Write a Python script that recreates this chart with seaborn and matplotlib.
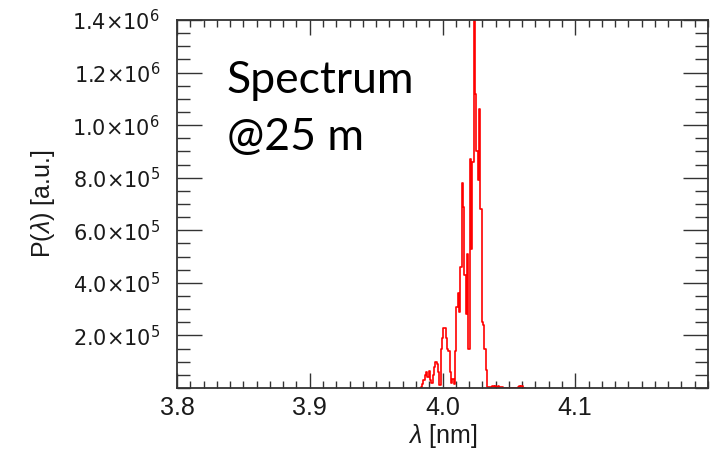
import numpy as np
import pandas as pd
import matplotlib
matplotlib.use("Agg")
import matplotlib.pyplot as plt
from matplotlib.ticker import FixedLocator, MultipleLocator
import seaborn as sns

# ---- data ----
wavelength_nm = [
    3.983, 3.984, 3.985, 3.986, 3.987, 3.988, 3.989, 3.990, 3.991, 3.992,
    3.993, 3.994, 3.995, 3.996, 3.997, 3.998, 3.999, 4.000, 4.001, 4.002,
    4.003, 4.004, 4.005, 4.006, 4.007, 4.008, 4.009, 4.010, 4.011, 4.012,
    4.013, 4.014, 4.015, 4.016, 4.017, 4.018, 4.019, 4.020, 4.021, 4.022,
    4.023, 4.024, 4.025, 4.026, 4.027, 4.028, 4.029, 4.030, 4.031, 4.032,
    4.033, 4.034, 4.035, 4.036, 4.037, 4.038, 4.039, 4.040, 4.041, 4.042,
    4.043, 4.044, 4.045, 4.046, 4.047, 4.048, 4.049, 4.050, 4.051, 4.052,
    4.053, 4.054, 4.055, 4.056, 4.057, 4.058, 4.059, 4.060, 4.061, 4.062,
]
power_au = [
    0, 5e3, 1.5e4, 3e4, 5e4, 6e4, 4e4, 6.5e4, 3e4, 2e4,
    5e4, 8e4, 1.0e5, 9e4, 6e4, 1e4, 1.5e5, 1.9e5, 2.3e5, 2.3e5,
    1.9e5, 1.5e5, 1.4e5, 6e4, 2e4, 3.5e4, 1.5e4, 1.4e5, 3.1e5, 3.6e5,
    2.9e5, 4.6e5, 7.8e5, 6.9e5, 4.3e5, 2.8e5, 5.1e5, 1.5e5, 8.7e5, 5.3e5,
    8.6e5, 1.45e6, 1.12e6, 9.0e5, 7.9e5, 1.06e6, 6.8e5, 2.5e5, 2.4e5, 1.5e5,
    7e4, 4e3, 3e3, 5e3, 3e3, 6e3, 3e3, 8e3, 3e3, 7e3,
    3e3, 4e3, 3e3, 0, 0, 0, 0, 0, 0, 0,
    0, 0, 0, 0, 5e3, 6e3, 5e3, 6e3, 0, 0,
]
x_ticks = [3.8, 3.9, 4.0, 4.1]
x_tick_labels = ["3.8", "3.9", "4.0", "4.1"]
y_ticks = [2e5, 4e5, 6e5, 8e5, 1e6, 1.2e6, 1.4e6]
y_tick_labels = [r"$\mathsf{2.0{\times}10^{5}}$", r"$\mathsf{4.0{\times}10^{5}}$",
                 r"$\mathsf{6.0{\times}10^{5}}$", r"$\mathsf{8.0{\times}10^{5}}$",
                 r"$\mathsf{1.0{\times}10^{6}}$", r"$\mathsf{1.2{\times}10^{6}}$",
                 r"$\mathsf{1.4{\times}10^{6}}$"]

df = pd.DataFrame({"lam": wavelength_nm, "P": power_au})

sns.set_style("ticks")
plt.rcParams["font.family"] = ["Liberation Sans", "DejaVu Sans"]
plt.rcParams["mathtext.fontset"] = "custom"
plt.rcParams["mathtext.rm"] = "Liberation Sans"
plt.rcParams["mathtext.it"] = "Liberation Sans:italic"
plt.rcParams["mathtext.bf"] = "Liberation Sans:bold"
plt.rcParams["mathtext.sf"] = "DejaVu Sans"

fig = plt.figure(figsize=(7.23, 4.57), dpi=100)
ax = fig.add_axes([177 / 723, 1 - 388 / 457, 531 / 723, 368 / 457])

sns.lineplot(data=df, x="lam", y="P", ax=ax, color="#ff0000", linewidth=1.2,
             drawstyle="steps-mid", estimator=None, sort=False)

ax.set_xlim(3.8, 4.2)
ax.set_ylim(0, 1.4e6)

ax.xaxis.set_major_locator(FixedLocator(x_ticks))
ax.set_xticklabels(x_tick_labels)
ax.xaxis.set_minor_locator(MultipleLocator(0.01))
ax.yaxis.set_major_locator(FixedLocator(y_ticks))
ax.set_yticklabels(y_tick_labels)
ax.yaxis.set_minor_locator(MultipleLocator(5e4))

edge = "#333333"
txt = "#1a1a1a"
for s in ax.spines.values():
    s.set_visible(True)
    s.set_color(edge)
    s.set_linewidth(1.3)

ax.tick_params(axis="x", which="major", direction="in", top=True, bottom=True,
               length=11, width=1.0, color=edge, labelsize=18, pad=6, labelcolor=txt)
ax.tick_params(axis="x", which="minor", direction="in", top=True, bottom=True,
               length=5, width=1.0, color=edge)
ax.tick_params(axis="y", which="major", direction="in", left=True, right=True,
               length=18, width=1.0, color=edge, labelsize=15, pad=12, labelcolor=txt)
ax.tick_params(axis="y", which="minor", direction="in", left=True, right=True,
               length=9.5, width=1.0, color=edge)

ax.set_xlabel(r"$\lambda$ [nm]", fontsize=18, color=txt, labelpad=1)
ax.set_ylabel(r"P($\lambda$) [a.u.]", fontsize=18, color=txt, labelpad=11)

ax.text(0.094, 0.8016, "Spectrum", transform=ax.transAxes, fontsize=32,
        family=["Lato", "DejaVu Sans"], va="baseline", ha="left", color="black")
ax.text(0.094, 0.6467, "@25 m", transform=ax.transAxes, fontsize=32,
        family=["Lato", "DejaVu Sans"], va="baseline", ha="left", color="black")

fig.savefig("out.png", dpi=100)
